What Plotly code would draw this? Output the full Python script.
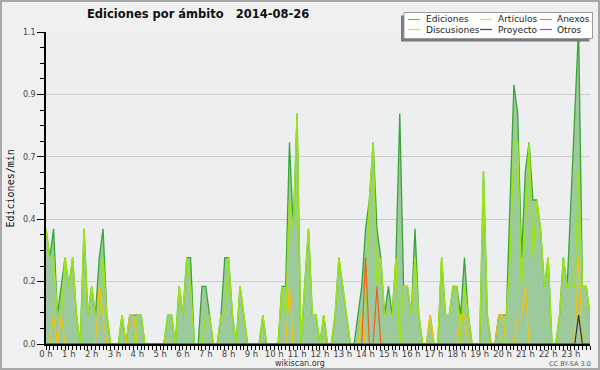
import plotly.graph_objects as go

# 10-minute bins over the day (values = edits per minute)
minutes = list(range(0, 1440, 10))

ediciones = [
    0.4, 0.3, 0.4, 0.1, 0.2, 0.3, 0.2, 0.3, 0.1, 0.0, 0.4, 0.1, 0.2, 0.1, 0.3, 0.4, 0.1, 0.0, 0.0, 0.0,
    0.1, 0.0, 0.1, 0.1, 0.1, 0.1, 0.0, 0.0, 0.0, 0.0, 0.0, 0.0, 0.1, 0.1, 0.0, 0.2, 0.1, 0.3, 0.3, 0.0,
    0.0, 0.2, 0.2, 0.1, 0.0, 0.0, 0.1, 0.3, 0.3, 0.1, 0.0, 0.2, 0.1, 0.0, 0.0, 0.0, 0.0, 0.1, 0.0, 0.0,
    0.0, 0.0, 0.2, 0.2, 0.7, 0.4, 0.8, 0.0, 0.2, 0.4, 0.1, 0.1, 0.0, 0.1, 0.0, 0.0, 0.1, 0.3, 0.2, 0.1,
    0.0, 0.0, 0.1, 0.2, 0.4, 0.5, 0.7, 0.4, 0.3, 0.1, 0.2, 0.1, 0.3, 0.8, 0.2, 0.2, 0.1, 0.4, 0.1, 0.0,
    0.0, 0.1, 0.0, 0.0, 0.3, 0.1, 0.1, 0.2, 0.2, 0.1, 0.3, 0.1, 0.0, 0.0, 0.0, 0.6, 0.1, 0.0, 0.0, 0.1,
    0.1, 0.1, 0.5, 0.9, 0.8, 0.3, 0.6, 0.7, 0.5, 0.5, 0.4, 0.2, 0.3, 0.0, 0.0, 0.1, 0.3, 0.2, 0.5, 0.8,
    1.1, 0.2, 0.2, 0.1,
]

articulos = [
    0.4, 0.3, 0.3, 0.1, 0.1, 0.3, 0.2, 0.3, 0.1, 0.0, 0.4, 0.1, 0.2, 0.1, 0.1, 0.3, 0.1, 0.0, 0.0, 0.0,
    0.1, 0.0, 0.0, 0.0, 0.1, 0.1, 0.0, 0.0, 0.0, 0.0, 0.0, 0.0, 0.1, 0.1, 0.0, 0.2, 0.1, 0.3, 0.2, 0.0,
    0.0, 0.0, 0.1, 0.1, 0.0, 0.0, 0.1, 0.1, 0.3, 0.1, 0.0, 0.2, 0.1, 0.0, 0.0, 0.0, 0.0, 0.1, 0.0, 0.0,
    0.0, 0.0, 0.2, 0.1, 0.5, 0.4, 0.8, 0.0, 0.2, 0.4, 0.1, 0.1, 0.0, 0.1, 0.0, 0.0, 0.1, 0.3, 0.2, 0.1,
    0.0, 0.0, 0.0, 0.1, 0.1, 0.5, 0.7, 0.2, 0.3, 0.1, 0.1, 0.1, 0.3, 0.0, 0.2, 0.2, 0.1, 0.3, 0.1, 0.0,
    0.0, 0.1, 0.0, 0.0, 0.3, 0.1, 0.1, 0.2, 0.2, 0.0, 0.2, 0.1, 0.0, 0.0, 0.0, 0.6, 0.1, 0.0, 0.0, 0.0,
    0.0, 0.1, 0.3, 0.7, 0.7, 0.2, 0.4, 0.7, 0.3, 0.5, 0.4, 0.2, 0.3, 0.0, 0.0, 0.1, 0.3, 0.2, 0.2, 0.2,
    0.6, 0.2, 0.2, 0.1,
]

discusiones = [0.0] * 144
for i, v in [(2, 0.1), (4, 0.1), (14, 0.2), (15, 0.1), (22, 0.1), (23, 0.1), (64, 0.2), (83, 0.1),
             (101, 0.1), (109, 0.1), (110, 0.1), (119, 0.1), (120, 0.1), (124, 0.1), (125, 0.1),
             (126, 0.2), (140, 0.3)]:
    discusiones[i] = v

anexos = [0.0] * 144
for i, v in [(84, 0.3), (87, 0.2)]:
    anexos[i] = v

proyecto = [0.0] * 144
for i, v in [(140, 0.1)]:
    proyecto[i] = v

otros = [0.0] * 144

y_tick_vals = [0, 13 / 60, 26 / 60, 39 / 60, 52 / 60, 65 / 60]
y_tick_text = ["0.0", "0.2", "0.4", "0.7", "0.9", "1.1"]

legend_names = ["Ediciones", "Artículos", "Anexos", "Discusiones", "Proyecto", "Otros"]
legend_colors = ["#5cc05c", "#c8ee3c", "#ff7a45", "#ffc83c", "#444444", "#9a40ff"]

hours = [m / 60 for m in minutes]

fig = go.Figure()
fig.add_trace(go.Scatter(x=hours, y=ediciones, mode="lines", fill="tozeroy",
                         fillcolor="#9dca9d", line=dict(color="#38a538", width=1.3)))
fig.add_trace(go.Scatter(x=hours, y=articulos, mode="lines", line=dict(color="#9be515", width=1.5)))
fig.add_trace(go.Scatter(x=hours, y=discusiones, mode="lines", line=dict(color="#f5c20f", width=1.2)))
fig.add_trace(go.Scatter(x=hours, y=anexos, mode="lines", line=dict(color="#f0601a", width=1.2)))
fig.add_trace(go.Scatter(x=hours, y=proyecto, mode="lines", line=dict(color="#333333", width=1.2)))
fig.add_trace(go.Scatter(x=hours, y=otros, mode="lines", line=dict(color="#9a30ff", width=1.0)))

L, R, T, B = 46, 590, 32, 344
W, H = R - L, B - T


def px(x):
    return (x - L) / W


def py(y):
    return (B - y) / H


shapes = []
# outer border
shapes.append(dict(type="rect", xref="paper", yref="paper", x0=px(1), x1=px(599), y0=py(1), y1=py(369),
                   line=dict(color="#a8a8a8", width=2), fillcolor="rgba(0,0,0,0)", layer="above"))
# legend shadow and box
shapes.append(dict(type="rect", xref="paper", yref="paper", x0=px(401), x1=px(589.5), y0=py(15.5), y1=py(41.5),
                   line=dict(width=0), fillcolor="#7a7a7a", layer="above"))
shapes.append(dict(type="rect", xref="paper", yref="paper", x0=px(404), x1=px(592.5), y0=py(12.5), y1=py(38.5),
                   line=dict(color="#9a9a9a", width=1), fillcolor="#ffffff", layer="above"))

annotations = []
col_line_x = [408, 480, 540]
col_text_x = [424, 496, 555]
row_y = [19.5, 29.5]
for k, (name, col) in enumerate(zip(legend_names, legend_colors)):
    r, c = divmod(k, 3)
    shapes.append(dict(type="line", xref="paper", yref="paper", x0=px(col_line_x[c]), x1=px(col_line_x[c] + 12),
                       y0=py(row_y[r]), y1=py(row_y[r]), line=dict(color=col, width=1.2), layer="above"))
    annotations.append(dict(text=name, xref="paper", yref="paper", x=px(col_text_x[c]), y=py(row_y[r]),
                            xanchor="left", yanchor="middle", showarrow=False,
                            font=dict(family="DejaVu Sans", size=9, color="#222222")))

annotations.append(dict(text="<b>Ediciones por ámbito\u00a0\u00a0\u00a02014-08-26</b>", xref="paper", yref="paper",
                        x=px(85), y=py(14.5), xanchor="left", yanchor="middle", showarrow=False,
                        font=dict(family="DejaVu Sans", size=11.5, color="#111111")))
annotations.append(dict(text="Ediciones/min", xref="paper", yref="paper", x=px(10), y=py(188.5),
                        xanchor="center", yanchor="middle", textangle=-90, showarrow=False,
                        font=dict(family="DejaVu Sans Mono", size=10, color="#111111")))
annotations.append(dict(text="wikiscan.org", xref="paper", yref="paper", x=px(300), y=py(363.5),
                        xanchor="center", yanchor="middle", showarrow=False, borderpad=0,
                        font=dict(family="DejaVu Sans", size=8, color="#333333")))
annotations.append(dict(text="CC BY-SA 3.0", xref="paper", yref="paper", x=px(569.5), y=py(363.5),
                        xanchor="center", yanchor="middle", showarrow=False, borderpad=0,
                        font=dict(family="DejaVu Sans", size=6.5, color="#555555")))

fig.update_layout(
    width=600, height=370,
    margin=dict(l=L, r=600 - R, t=T, b=370 - B, pad=0),
    paper_bgcolor="#f0f0f0", plot_bgcolor="#eceef0",
    showlegend=False,
    shapes=shapes, annotations=annotations,
    xaxis=dict(range=[0, 143 / 6], tickmode="linear", tick0=0, dtick=1, ticksuffix=" h",
               showgrid=False, zeroline=False, showline=True, linecolor="#000000", linewidth=1.5,
               ticks="outside", ticklen=4, tickwidth=1, tickcolor="#000000",
               ticklabelstandoff=-3,
               tickfont=dict(family="DejaVu Sans", size=8.5, color="#444444"),
               minor=dict(tickmode="linear", tick0=0, dtick=1 / 6, ticklen=4, tickwidth=1,
                          tickcolor="#000000", showgrid=False),
               fixedrange=True),
    yaxis=dict(range=[0, 13 / 12], tickmode="array", tickvals=y_tick_vals, ticktext=y_tick_text,
               showgrid=True, gridcolor="#cccccc", gridwidth=1, zeroline=False,
               showline=True, linecolor="#000000", linewidth=1.5,
               ticks="outside", ticklen=7, tickwidth=1, tickcolor="#000000",
               tickfont=dict(family="DejaVu Sans", size=8, color="#444444"),
               minor=dict(tickmode="array", tickvals=[k * 13 / 240 for k in range(1, 20) if k % 4 != 0],
                          ticklen=4, tickwidth=1, tickcolor="#000000", showgrid=False),
               fixedrange=True),
)

fig.write_html("out.html", config={"displayModeBar": False},
               post_script="document.body.style.margin='0';document.body.style.overflow='hidden';")
